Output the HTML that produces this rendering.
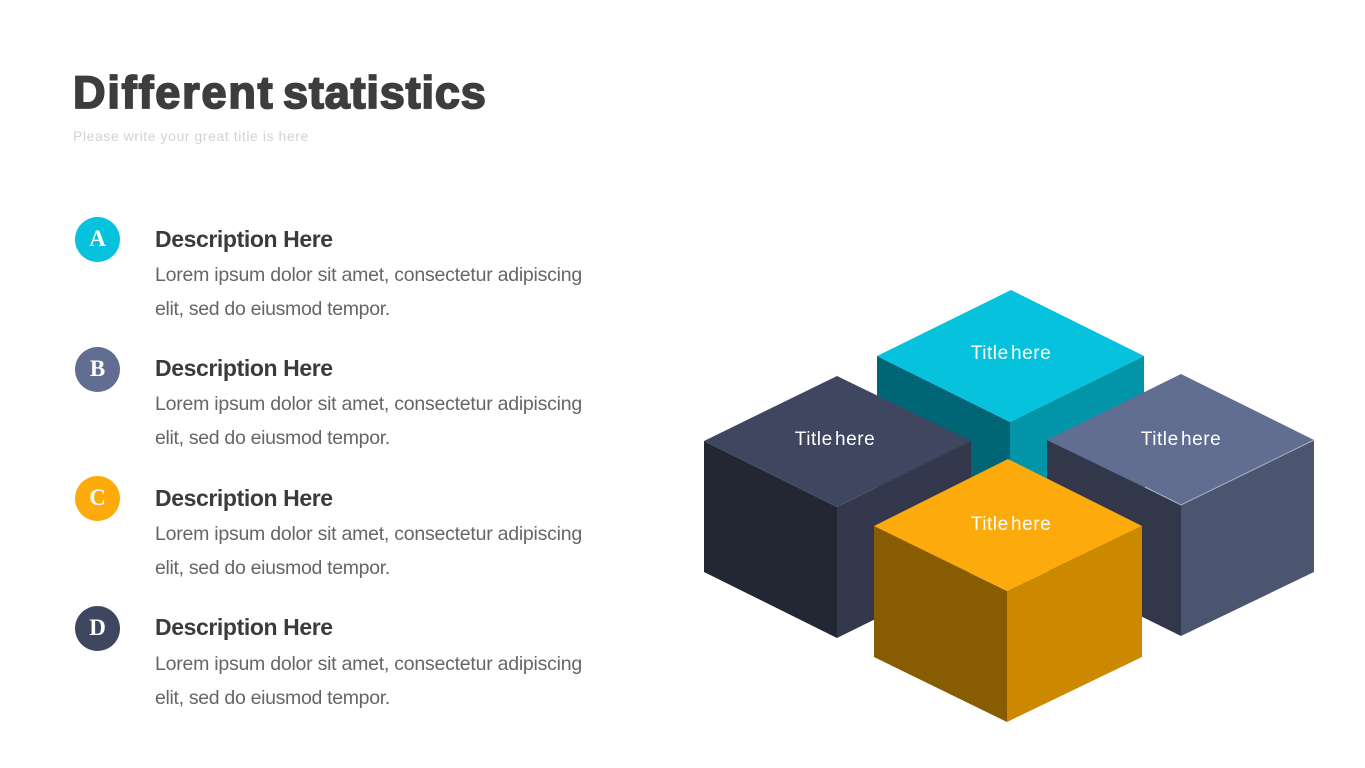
<!DOCTYPE html>
<html>
<head>
<meta charset="utf-8">
<style>
html,body{margin:0;padding:0;background:#fff;}
body{width:1365px;height:768px;overflow:hidden;position:relative;font-family:"Liberation Sans",sans-serif;}
.abs{position:absolute;white-space:nowrap;}
.t{top:66px;font-size:45px;line-height:54px;font-weight:700;color:#3d3d3d;-webkit-text-stroke:1.8px #3d3d3d;}
#sub{left:73px;top:127px;font-size:14px;line-height:18px;color:#d2d2d2;letter-spacing:.57px;}
.c{position:absolute;left:75px;width:45px;height:45px;border-radius:50%;color:#fff;font-family:"Liberation Serif",serif;font-weight:700;font-size:23px;line-height:44px;text-align:center;}
.h{left:155px;font-size:23px;line-height:28px;font-weight:700;color:#3b3b3b;letter-spacing:-.4px;}
.p{left:155px;font-size:19.5px;line-height:34px;color:#666;letter-spacing:-.24px;}
.q{letter-spacing:-.32px;}
svg{position:absolute;left:0;top:0;}
svg text{font-family:"Liberation Sans",sans-serif;font-size:19px;fill:#fff;text-anchor:middle;letter-spacing:.55px;word-spacing:-3.5px;}
</style>
</head>
<body>
<div class="abs t" style="left:73px;letter-spacing:1.83px">Different</div>
<div class="abs t" style="left:283px;letter-spacing:.85px">statistics</div>
<div class="abs" id="sub">Please write your great title is here</div>

<div class="c" style="top:217px;background:#06c2dd">A</div>
<div class="abs h" style="top:224.5px">Description Here</div>
<div class="abs p" style="top:258px">Lorem ipsum dolor sit amet, consectetur adipiscing</div>
<div class="abs p q" style="top:292px">elit, sed do eiusmod tempor.</div>

<div class="c" style="top:347px;background:#626e91">B</div>
<div class="abs h" style="top:354px">Description Here</div>
<div class="abs p" style="top:387px">Lorem ipsum dolor sit amet, consectetur adipiscing</div>
<div class="abs p q" style="top:421px">elit, sed do eiusmod tempor.</div>

<div class="c" style="top:476px;background:#fdab0c">C</div>
<div class="abs h" style="top:483.5px">Description Here</div>
<div class="abs p" style="top:517px">Lorem ipsum dolor sit amet, consectetur adipiscing</div>
<div class="abs p q" style="top:551px">elit, sed do eiusmod tempor.</div>

<div class="c" style="top:606px;background:#3f4660">D</div>
<div class="abs h" style="top:613px">Description Here</div>
<div class="abs p" style="top:647px">Lorem ipsum dolor sit amet, consectetur adipiscing</div>
<div class="abs p q" style="top:681px">elit, sed do eiusmod tempor.</div>

<svg width="1365" height="768" viewBox="0 0 1365 768">
  <!-- teal cube -->
  <polygon points="877,356 1010,422 1010,560 877,500" fill="#006574"/>
  <polygon points="1144,356 1010,422 1010,560 1144,500" fill="#0295a9"/>
  <polygon points="1011,290 1144,356 1010,422 877,356" fill="#06c2dd"/>
  <text x="1011" y="359">Title here</text>

  <!-- dark cube -->
  <polygon points="704,441 837,507 837,638 704,572" fill="#232733"/>
  <polygon points="971,441 837,507 837,638 971,572" fill="#33384c"/>
  <polygon points="837,376 971,441 837,507 704,441" fill="#3f4660"/>
  <text x="835" y="445">Title here</text>

  <!-- slate cube -->
  <polygon points="1047,440 1181,505 1181,636 1047,570" fill="#323849"/>
  <polygon points="1314,440 1181,505 1181,636 1314,572" fill="#4b556f"/>
  <polygon points="1181,374 1314,440 1181,505 1047,440" fill="#626e91"/>
  <polyline points="1314,440 1181,505 1145,487" fill="none" stroke="#aab2c8" stroke-width="1"/>
  <text x="1181" y="445">Title here</text>

  <!-- orange cube -->
  <polygon points="874,526 1007,591 1007,722 874,657" fill="#885c00"/>
  <polygon points="1142,526 1007,591 1007,722 1142,657" fill="#cc8900"/>
  <polygon points="1008,459 1142,526 1007,591 874,526" fill="#fdab0c"/>
  <text x="1011" y="530">Title here</text>
</svg>
</body>
</html>
